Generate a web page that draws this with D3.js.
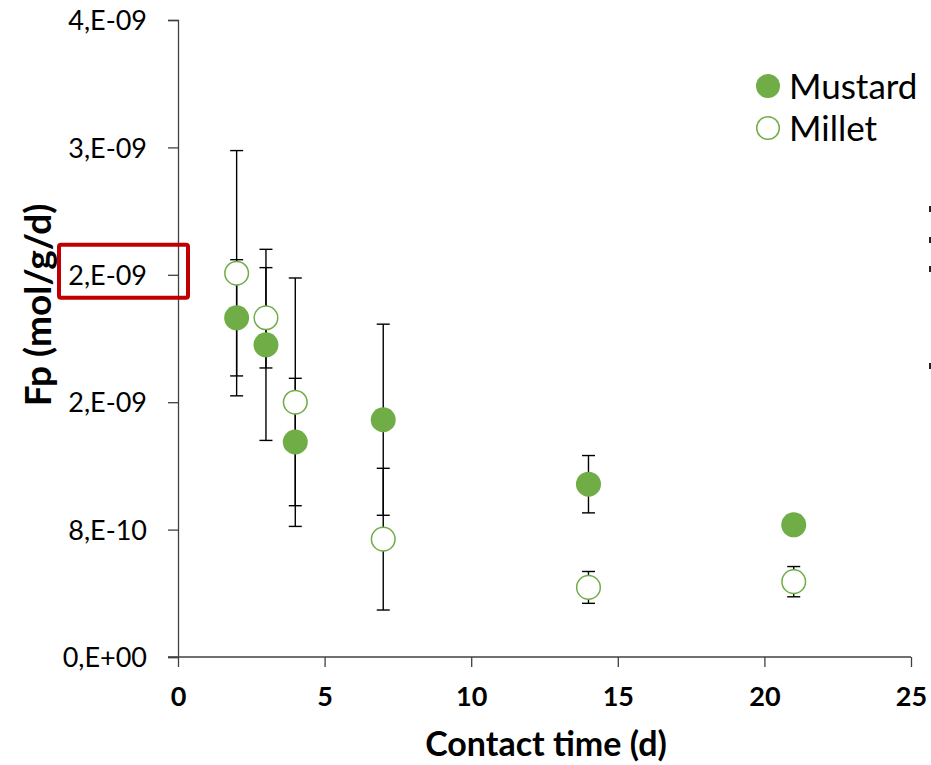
<!DOCTYPE html>
<html>
<head>
<meta charset="utf-8">
<script src="https://cdn.jsdelivr.net/npm/d3@7"></script>
<style>
  html, body { margin: 0; padding: 0; background: #fff; }
  svg { display: block; }
  text { font-family: Lato, "Open Sans", sans-serif; }
</style>
</head>
<body>
<svg id="chart" width="931" height="765"></svg>
<script>
// ---- data ----
const contactDays = [2, 3, 4, 7, 14, 21];
const mustardFp   = [2.13e-9, 1.96e-9, 1.35e-9, 1.49e-9, 1.085e-9, 0.83e-9];
const mustardErr  = [0.365e-9, 0.60e-9, 0.40e-9, 0.60e-9, 0.18e-9, 0.05e-9];
const milletFp    = [2.41e-9, 2.13e-9, 1.60e-9, 0.74e-9, 0.437e-9, 0.473e-9];
const milletErr   = [0.77e-9, 0.315e-9, 0.78e-9, 0.445e-9, 0.10e-9, 0.095e-9];
const xTicks = [0, 5, 10, 15, 20, 25];
const yTicks = [0, 0.8e-9, 1.6e-9, 2.4e-9, 3.2e-9, 4.0e-9];
const yTickLabels = ["0,E+00", "8,E-10", "2,E-09", "2,E-09", "3,E-09", "4,E-09"];
const seriesNames = ["Mustard", "Millet"];
const highlightedTick = 3; // index of the boxed y tick label

const green = "#70AD47";
const axisColor = "#404040";

const svg = d3.select("#chart");
const x = d3.scaleLinear().domain([0, 25]).range([178, 911]);
const y = d3.scaleLinear().domain([0, 4e-9]).range([657, 20]);

// axes
const yAxis = d3.axisLeft(y).tickValues(yTicks).tickSize(10).tickPadding(21)
  .tickFormat((d, i) => yTickLabels[i]);
const gy = svg.append("g").attr("transform", `translate(${x(0)},0)`).call(yAxis);
gy.attr("font-size", null).attr("font-family", null);
gy.select(".domain").attr("stroke", axisColor).attr("stroke-width", 1.3);
gy.selectAll(".tick line").attr("stroke", axisColor).attr("stroke-width", 1.3);
gy.selectAll(".tick text").attr("fill", "#000").style("font-size", "27px")
  .style("font-family", "Lato, sans-serif").attr("dy", "0.36em");

const xAxis = d3.axisBottom(x).tickValues(xTicks).tickSize(10).tickPadding(20)
  .tickFormat(d3.format("d"));
const gx = svg.append("g").attr("transform", `translate(0,${y(0)})`).call(xAxis);
gx.attr("font-size", null).attr("font-family", null);
gx.select(".domain").attr("stroke", axisColor).attr("stroke-width", 1.3)
  .attr("d", `M${x(0) - 10},0H${x(25)}`);
gx.selectAll(".tick line").attr("stroke", axisColor).attr("stroke-width", 1.3);
gx.selectAll(".tick text").attr("fill", "#000").style("font-size", "27px")
  .style("font-weight", "bold").style("font-family", "Lato, sans-serif");

// axis titles
svg.append("text").attr("x", 546).attr("y", 756).attr("text-anchor", "middle")
  .style("font-size", "34px").style("font-weight", "bold").text("Contact time (d)");
svg.append("text").attr("transform", "translate(51,305) rotate(-90)")
  .attr("text-anchor", "middle").style("font-size", "37px").style("font-weight", "bold")
  .text("Fp (mol/g/d)");

// red highlight box around a y tick label
const hy = y(yTicks[highlightedTick]);
svg.append("rect").attr("x", 59).attr("y", hy - 30).attr("width", 129).attr("height", 53)
  .attr("rx", 2).attr("fill", "none").attr("stroke", "#C00000").attr("stroke-width", 4);

// error bars
function errorBars(vals, errs, cls) {
  const g = svg.append("g").attr("class", cls);
  const data = contactDays.map((d, i) => ({ d, v: vals[i], e: errs[i] }));
  g.selectAll("line.v").data(data).join("line")
    .attr("x1", p => x(p.d)).attr("x2", p => x(p.d))
    .attr("y1", p => y(p.v + p.e)).attr("y2", p => y(p.v - p.e))
    .attr("stroke", "#000").attr("stroke-width", 1.4);
  ["+", "-"].forEach(s => {
    g.selectAll("line.c" + (s === "+" ? "t" : "b")).data(data).join("line")
      .attr("x1", p => x(p.d) - 6.5).attr("x2", p => x(p.d) + 6.5)
      .attr("y1", p => y(s === "+" ? p.v + p.e : p.v - p.e))
      .attr("y2", p => y(s === "+" ? p.v + p.e : p.v - p.e))
      .attr("stroke", "#000").attr("stroke-width", 1.4);
  });
}
errorBars(mustardFp, mustardErr, "err-mustard");
errorBars(milletFp, milletErr, "err-millet");

// markers
svg.append("g").selectAll("circle").data(contactDays.map((d, i) => [d, mustardFp[i]])).join("circle")
  .attr("cx", p => x(p[0])).attr("cy", p => y(p[1])).attr("r", 12.5).attr("fill", green);
svg.append("g").selectAll("circle").data(contactDays.map((d, i) => [d, milletFp[i]])).join("circle")
  .attr("cx", p => x(p[0])).attr("cy", p => y(p[1])).attr("r", 11.8)
  .attr("fill", "#fff").attr("stroke", green).attr("stroke-width", 1.5);

// legend
const legend = svg.append("g");
seriesNames.forEach((name, i) => {
  const ly = 86 + i * 42;
  legend.append("circle").attr("cx", 768).attr("cy", ly).attr("r", i === 0 ? 12 : 11.3)
    .attr("fill", i === 0 ? green : "#fff").attr("stroke", i === 0 ? "none" : green)
    .attr("stroke-width", 1.5);
  legend.append("text").attr("x", 789).attr("y", ly).attr("dy", "0.36em")
    .style("font-size", "35px").text(name);
});

// cut-off fragments at the right edge
const edgeMarks = [209, 240, 269, 366];
svg.append("g").selectAll("rect").data(edgeMarks).join("rect")
  .attr("x", 929).attr("y", d => d - 3).attr("width", 2).attr("height", 6).attr("fill", "#222");
</script>
</body>
</html>
